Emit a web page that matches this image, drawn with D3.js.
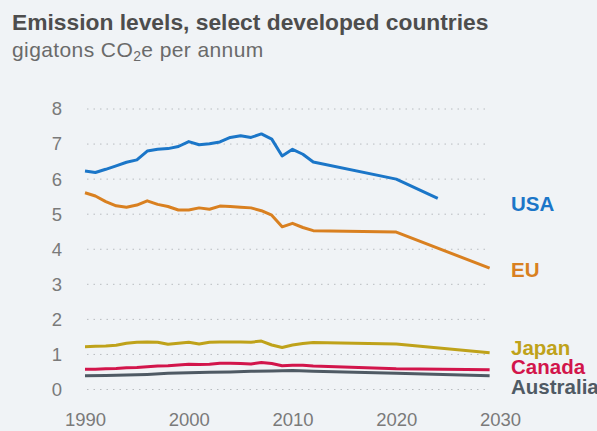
<!DOCTYPE html>
<html>
<head>
<meta charset="utf-8">
<script src="https://cdn.jsdelivr.net/npm/d3@7"></script>
<style>
  html, body { margin: 0; padding: 0; background: #f0f3f6; }
  svg { display: block; font-family: "Liberation Sans", Arial, sans-serif; }
</style>
</head>
<body>
<svg id="chart"></svg>
<script>
// [year, gigatons CO2e]
const usa = [[1990,6.23],[1991,6.19],[1992,6.28],[1993,6.38],[1994,6.48],[1995,6.55],[1996,6.80],[1997,6.85],
  [1998,6.87],[1999,6.93],[2000,7.07],[2001,6.98],[2002,7.01],[2003,7.06],[2004,7.19],[2005,7.24],[2006,7.19],
  [2007,7.29],[2008,7.14],[2009,6.66],[2010,6.85],[2011,6.71],[2012,6.49],[2020,6.00],[2024,5.45]];
const eu = [[1990,5.61],[1991,5.52],[1992,5.36],[1993,5.24],[1994,5.20],[1995,5.26],[1996,5.38],[1997,5.28],
  [1998,5.22],[1999,5.12],[2000,5.12],[2001,5.18],[2002,5.14],[2003,5.23],[2004,5.22],[2005,5.20],[2006,5.18],
  [2007,5.10],[2008,4.97],[2009,4.64],[2010,4.74],[2011,4.62],[2012,4.53],[2020,4.49],[2029,3.46]];
const japan = [[1990,1.22],[1991,1.23],[1992,1.24],[1993,1.26],[1994,1.32],[1995,1.35],[1996,1.355],[1997,1.35],
  [1998,1.29],[1999,1.32],[2000,1.35],[2001,1.30],[2002,1.35],[2003,1.355],[2004,1.355],[2005,1.355],[2006,1.35],
  [2007,1.38],[2008,1.27],[2009,1.20],[2010,1.27],[2011,1.31],[2012,1.34],[2020,1.30],[2029,1.05]];
const canada = [[1990,0.58],[1991,0.58],[1992,0.59],[1993,0.60],[1994,0.62],[1995,0.63],[1996,0.65],[1997,0.67],
  [1998,0.68],[1999,0.70],[2000,0.72],[2001,0.71],[2002,0.72],[2003,0.75],[2004,0.75],[2005,0.74],[2006,0.73],
  [2007,0.77],[2008,0.74],[2009,0.68],[2010,0.69],[2011,0.69],[2012,0.67],[2020,0.59],[2029,0.56]];
const australia = [[1990,0.39],[1992,0.40],[1994,0.41],[1996,0.43],[1998,0.46],[2000,0.48],[2002,0.49],
  [2004,0.50],[2006,0.52],[2008,0.53],[2010,0.54],[2012,0.52],[2020,0.46],[2029,0.39]];

const seriesNames = ["USA", "EU", "Japan", "Canada", "Australia"];
const seriesData = [usa, eu, japan, canada, australia];
const seriesColors = ["#1b76c8", "#d98020", "#bfa21a", "#d2154b", "#4f5a64"];
const labelY = [211, 277, 355, 374, 394];

const yTicks = [0, 1, 2, 3, 4, 5, 6, 7, 8];
const xTicks = [1990, 2000, 2010, 2020, 2030];

const width = 597, height = 431;

const svg = d3.select("#chart")
    .attr("width", width)
    .attr("height", height);

svg.append("rect")
    .attr("width", width)
    .attr("height", height)
    .attr("fill", "#f0f3f6");

svg.append("text")
    .attr("x", 12)
    .attr("y", 30)
    .attr("font-size", 22.8)
    .attr("font-weight", "bold")
    .attr("fill", "#4d4d4d")
    .text("Emission levels, select developed countries");

const sub = svg.append("text")
    .attr("x", 12)
    .attr("y", 57)
    .attr("font-size", 21)
    .attr("letter-spacing", 0.4)
    .attr("fill", "#6a6a6a");
sub.append("tspan").text("gigatons CO");
sub.append("tspan").attr("font-size", 14).attr("dy", 4).text("2");
sub.append("tspan").attr("dy", -4).text("e per annum");

const x = d3.scaleLinear().domain([1990, 2030]).range([85, 500]);
const y = d3.scaleLinear().domain([0, 8]).range([389.5, 109]);

// Grid
svg.append("g")
    .selectAll("line")
    .data(yTicks)
    .enter()
    .append("line")
    .attr("x1", 87)
    .attr("x2", 488)
    .attr("y1", d => y(d))
    .attr("y2", d => y(d))
    .attr("stroke", "#b8bcc0")
    .attr("stroke-width", 1)
    .attr("stroke-dasharray", "1.5,5");

// Y axis
const yAxis = svg.append("g")
    .attr("transform", "translate(62,0)")
    .call(d3.axisLeft(y).tickValues(yTicks).tickSize(0).tickPadding(0).tickFormat(d3.format("d")));
yAxis.select(".domain").remove();
yAxis.selectAll("text")
    .attr("font-size", 18.5)
    .attr("font-family", "Liberation Sans, Arial, sans-serif")
    .attr("fill", "#7a7a7a");

// X axis
const xAxis = svg.append("g")
    .call(d3.axisBottom(x).tickValues(xTicks).tickSize(0).tickFormat(d3.format("d")));
xAxis.select(".domain").remove();
xAxis.selectAll("text")
    .attr("y", 426)
    .attr("dy", null)
    .attr("font-size", 18.5)
    .attr("font-family", "Liberation Sans, Arial, sans-serif")
    .attr("fill", "#7a7a7a");

// Lines
const line = d3.line()
    .x(d => x(d[0]))
    .y(d => y(d[1]));

svg.append("g")
    .selectAll("path")
    .data(seriesData)
    .enter()
    .append("path")
    .attr("d", line)
    .attr("fill", "none")
    .attr("stroke", (d, i) => seriesColors[i])
    .attr("stroke-width", 3)
    .attr("stroke-linejoin", "round");

// Labels
svg.append("g")
    .selectAll("text")
    .data(seriesNames)
    .enter()
    .append("text")
    .attr("x", 511)
    .attr("y", (d, i) => labelY[i])
    .attr("font-size", 20.5)
    .attr("font-weight", "bold")
    .attr("fill", (d, i) => seriesColors[i])
    .text(d => d);
</script>
</body>
</html>
